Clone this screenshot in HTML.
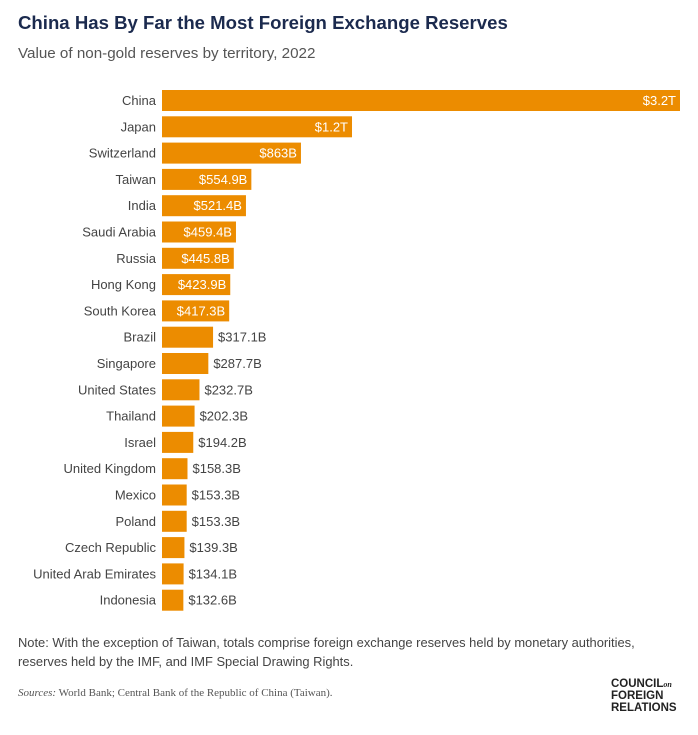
<!DOCTYPE html>
<html><head><meta charset="utf-8"><style>
body{margin:0;background:#fff;width:698px;height:730px;overflow:hidden;font-family:"Liberation Sans",sans-serif}
</style></head><body>
<svg width="698" height="730" xmlns="http://www.w3.org/2000/svg">
<text x="18" y="29" font-size="18.6" font-weight="bold" fill="#1b2a4e">China Has By Far the Most Foreign Exchange Reserves</text>
<text x="18" y="58" font-size="15.2" fill="#555">Value of non-gold reserves by territory, 2022</text>
<g id="bars"></g>
<text x="18" y="647" font-size="12.9" fill="#444">Note: With the exception of Taiwan, totals comprise foreign exchange reserves held by monetary authorities,</text>
<text x="18" y="666" font-size="12.9" fill="#444">reserves held by the IMF, and IMF Special Drawing Rights.</text>
<text x="18" y="696" font-size="11" fill="#555" font-family="Liberation Serif,serif"><tspan font-style="italic">Sources:</tspan> World Bank; Central Bank of the Republic of China (Taiwan).</text>
<g font-size="11.5" font-weight="bold" fill="#222">
<text x="611" y="687">COUNCIL<tspan font-size="8" font-style="italic" font-family="Liberation Serif,serif">on</tspan></text>
<text x="611" y="699">FOREIGN</text>
<text x="611" y="711">RELATIONS</text>
</g>
</svg>
<script>
const categories=["China","Japan","Switzerland","Taiwan","India","Saudi Arabia","Russia","Hong Kong","South Korea","Brazil","Singapore","United States","Thailand","Israel","United Kingdom","Mexico","Poland","Czech Republic","United Arab Emirates","Indonesia"];
const values=[3217,1180,863,554.9,521.4,459.4,445.8,423.9,417.3,317.1,287.7,232.7,202.3,194.2,158.3,153.3,153.3,139.3,134.1,132.6];
const valueLabels=["$3.2T","$1.2T","$863B","$554.9B","$521.4B","$459.4B","$445.8B","$423.9B","$417.3B","$317.1B","$287.7B","$232.7B","$202.3B","$194.2B","$158.3B","$153.3B","$153.3B","$139.3B","$134.1B","$132.6B"];
const NS="http://www.w3.org/2000/svg";
const x0=162,x1=680,maxV=3217;
const xs=v=>x0+(x1-x0)*v/maxV;
const ys=i=>90+i*26.3;
const bh=21;
const g=document.getElementById('bars');
categories.forEach((c,i)=>{
  const y=ys(i),v=values[i],w=xs(v)-x0;
  const r=document.createElementNS(NS,'rect');
  r.setAttribute('x',x0);r.setAttribute('y',y);r.setAttribute('width',w);r.setAttribute('height',bh);r.setAttribute('fill','#ec8c00');
  
  
  g.appendChild(r);
  const t=document.createElementNS(NS,'text');
  t.setAttribute('x',x0-6);t.setAttribute('y',y+15);t.setAttribute('text-anchor','end');t.setAttribute('font-size','13');t.setAttribute('fill','#444');
  t.textContent=c;
  
  
  g.appendChild(t);
  const l=document.createElementNS(NS,'text');
  const inside=w>60;
  l.setAttribute('x',inside?x0+w-4:x0+w+5);l.setAttribute('y',y+15);l.setAttribute('text-anchor',inside?'end':'start');
  l.setAttribute('font-size','13');l.setAttribute('fill',inside?'#fff':'#444');
  l.textContent=valueLabels[i];
  
  
  g.appendChild(l);
});
</script>
</body></html>
